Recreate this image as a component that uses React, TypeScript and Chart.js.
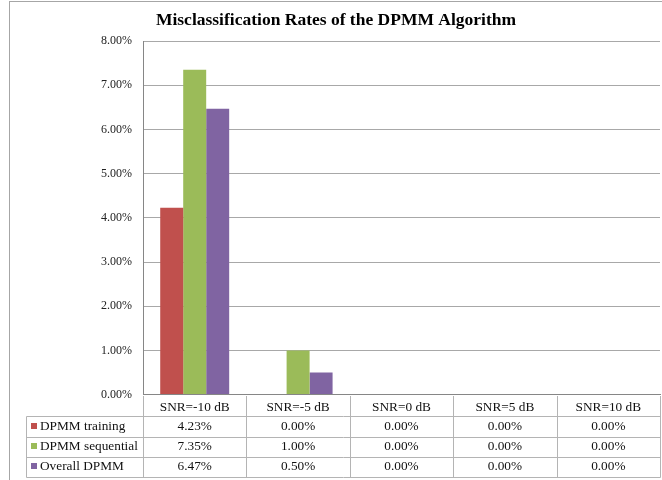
import React, { useEffect, useRef } from "react";
import { Chart, registerables } from "chart.js";

Chart.register(...registerables);

const title = "Misclassification Rates of the DPMM Algorithm";
const categories = ["SNR=-10 dB", "SNR=-5 dB", "SNR=0 dB", "SNR=5 dB", "SNR=10 dB"];
const seriesNames = ["DPMM training", "DPMM sequential", "Overall DPMM"];
const trainingRates = [4.23, 0.0, 0.0, 0.0, 0.0];
const sequentialRates = [7.35, 1.0, 0.0, 0.0, 0.0];
const overallRates = [6.47, 0.5, 0.0, 0.0, 0.0];
const seriesColors = ["#C0504D", "#9BBB59", "#8064A2"];
const yMin = 0;
const yMax = 8;
const yStep = 1;

const FONT = '"Liberation Serif", "Times New Roman", serif';

const framePlugin = {
  id: "frame",
  beforeDraw(chart: any) {
    const { ctx } = chart;
    ctx.save();
    ctx.fillStyle = "#ffffff";
    ctx.fillRect(0, 0, chart.width, chart.height);
    ctx.strokeStyle = "#A6A6A6";
    ctx.lineWidth = 1;
    ctx.strokeRect(9.5, 1.5, 800, 700);
    ctx.restore();
  },
};

const tablePlugin = {
  id: "dataTable",
  afterDraw(chart: any) {
    const { ctx, chartArea } = chart;
    const xs = chart.scales.x;
    const top = chartArea.bottom;
    const headerH = 21.8;
    const rowH = 20.2;
    const left = chartArea.left;
    const right = chartArea.right;
    const n = categories.length;
    const colW = (right - left) / n;
    const labelLeft = 26;
    const bottom = top + headerH + seriesNames.length * rowH;
    const crisp = (v: number) => Math.round(v) + 0.5;

    ctx.save();
    ctx.strokeStyle = "#B4B4B4";
    ctx.lineWidth = 1;
    ctx.beginPath();
    for (let i = 0; i <= n; i++) {
      const x = crisp(left + i * colW);
      ctx.moveTo(x, Math.round(top) + 1);
      ctx.lineTo(x, crisp(bottom));
    }
    for (let k = 0; k <= seriesNames.length; k++) {
      const y = crisp(top + headerH + k * rowH);
      ctx.moveTo(labelLeft + 0.5, y);
      ctx.lineTo(crisp(right), y);
    }
    ctx.moveTo(labelLeft + 0.5, crisp(top + headerH));
    ctx.lineTo(labelLeft + 0.5, crisp(bottom));
    ctx.stroke();

    ctx.font = `13.3px ${FONT}`;
    ctx.fillStyle = "#111111";
    ctx.textBaseline = "middle";
    chart.data.datasets.forEach((ds: any, j: number) => {
      const yc = top + headerH + j * rowH + rowH / 2;
      ctx.fillStyle = seriesColors[j];
      ctx.fillRect(31, Math.round(yc) - 4, 6, 6);
      ctx.fillStyle = "#111111";
      ctx.textAlign = "left";
      ctx.fillText(seriesNames[j], 40, yc);
      ctx.textAlign = "center";
      ds.data.forEach((v: number, i: number) => {
        ctx.fillText(v.toFixed(2) + "%", xs.getPixelForValue(i), yc);
      });
    });
    ctx.restore();
  },
};

export default function App() {
  const ref = useRef<HTMLCanvasElement>(null);
  useEffect(() => {
    if (!ref.current) return;
    const datasets = [trainingRates, sequentialRates, overallRates].map((d, j) => ({
      label: seriesNames[j],
      data: d,
      backgroundColor: seriesColors[j],
      borderWidth: 0,
      categoryPercentage: 0.667,
      barPercentage: 1.0,
    }));
    const chart = new Chart(ref.current, {
      type: "bar",
      data: { labels: categories, datasets },
      options: {
        animation: false,
        responsive: false,
        layout: { padding: { left: 12, right: 2, top: 0, bottom: 0 } },
        plugins: {
          legend: { display: false },
          tooltip: { enabled: false },
          title: {
            display: true,
            text: title,
            color: "#000000",
            font: { family: FONT, size: 17.5, weight: "bold" },
            padding: { top: 10, bottom: 10 },
          },
        },
        scales: {
          x: {
            grid: { display: false, drawTicks: false },
            border: { display: true, color: "#868686", width: 1 },
            ticks: {
              color: "#111111",
              font: { family: FONT, size: 13.3 },
              padding: 5,
              maxRotation: 0,
              autoSkip: false,
            },
            afterFit: (scale: any) => {
              scale.height = 85.4;
            },
          },
          y: {
            min: yMin,
            max: yMax,
            grid: { color: "#A8A8A8", drawTicks: false },
            border: { display: true, color: "#868686", width: 1 },
            ticks: {
              stepSize: yStep,
              padding: 11,
              color: "#222222",
              font: { family: FONT, size: 12 },
              callback: (v: any) => Number(v).toFixed(2) + "%",
            },
            afterFit: (scale: any) => {
              scale.width = 131;
            },
          },
        },
      },
      plugins: [framePlugin, tablePlugin],
    });
    return () => chart.destroy();
  }, []);
  return (
    <div style={{ position: "fixed", left: 0, top: 0, width: 662, height: 480 }}>
      <canvas ref={ref} width={662} height={480} />
    </div>
  );
}
